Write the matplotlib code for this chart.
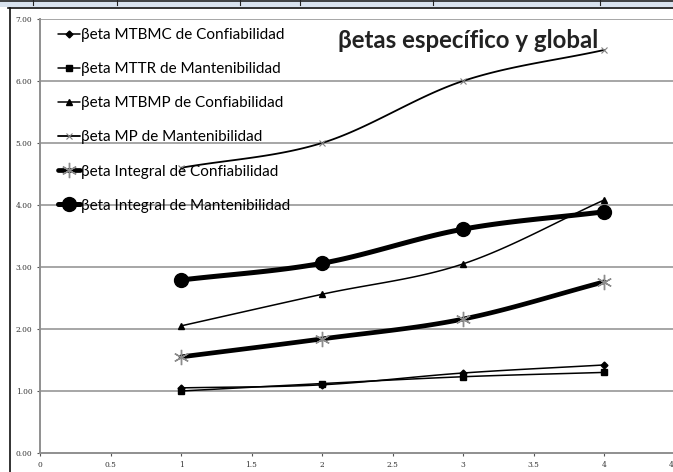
import numpy as np
import matplotlib
matplotlib.use("Agg")
import matplotlib.pyplot as plt
from matplotlib.patches import Rectangle
from matplotlib.lines import Line2D

# Data
periods = [1, 2, 3, 4]
beta_mtbmc_conf = [1.05, 1.10, 1.29, 1.42]
beta_mttr_mant = [1.00, 1.12, 1.23, 1.30]
beta_mtbmp_conf = [2.05, 2.56, 3.05, 4.08]
beta_mp_mant = [4.60, 5.00, 6.00, 6.50]
beta_integral_conf = [1.55, 1.84, 2.16, 2.76]
beta_integral_mant = [2.79, 3.06, 3.61, 3.89]

labels = [
    "βeta MTBMC de Confiabilidad",
    "βeta MTTR de Mantenibilidad",
    "βeta MTBMP de Confiabilidad",
    "βeta MP de Mantenibilidad",
    "βeta Integral de Confiabilidad",
    "βeta Integral de Mantenibilidad",
]
title = "βetas específico y global"
y_ticks = [0, 1, 2, 3, 4, 5, 6, 7]
x_ticks = [0, 0.5, 1, 1.5, 2, 2.5, 3, 3.5, 4, 4.5]

N_SEG = 40


def smooth(xs, ys, n=N_SEG):
    """Catmull-Rom curve through the points (spreadsheet-style smoothed line)."""
    p = np.column_stack([xs, ys]).astype(float)
    p = np.vstack([p[0] - (p[1] - p[0]), p, p[-1] + (p[-1] - p[-2])])
    out = []
    t = np.linspace(0, 1, n, endpoint=False)[:, None]
    for i in range(1, len(p) - 2):
        p0, p1, p2, p3 = p[i - 1], p[i], p[i + 1], p[i + 2]
        seg = 0.5 * ((2 * p1) + (-p0 + p2) * t + (2 * p0 - 5 * p1 + 4 * p2 - p3) * t ** 2
                     + (-p0 + 3 * p1 - 3 * p2 + p3) * t ** 3)
        out.append(seg)
    out.append(p[-2][None, :])
    c = np.vstack(out)
    return c[:, 0], c[:, 1]


W, H = 673, 472
fig = plt.figure(figsize=(W / 100, H / 100), dpi=100)

# window strip and chart border along the top/left
fig.add_artist(Rectangle((0, 1 - 7 / H), 1, 7 / H, transform=fig.transFigure,
                         facecolor="#d8e2ee", edgecolor="none"))
fig.add_artist(Line2D([0, 1], [1 - 1 / H, 1 - 1 / H], transform=fig.transFigure,
                      color="#222222", lw=1.2))
for xp in [33, 117, 240, 300, 433, 600]:
    fig.add_artist(Line2D([xp / W, xp / W], [1 - 5 / H, 1], transform=fig.transFigure,
                          color="#222222", lw=0.8))
fig.add_artist(Line2D([8 / W, 1], [1 - 8 / H, 1 - 8 / H], transform=fig.transFigure,
                      color="#111111", lw=1.2))
fig.add_artist(Line2D([9.5 / W, 9.5 / W], [0, 1 - 8 / H], transform=fig.transFigure,
                      color="#111111", lw=1.2))

ax = fig.add_axes([40 / W, 1 - 453 / H, (674.5 - 40) / W, (453 - 19) / H])
ax.set_xlim(0, 4.5)
ax.set_ylim(0, 7)

for v in y_ticks[1:]:
    ax.axhline(v, color="#a6a6a6", lw=1.4, zorder=1)

series = [
    (beta_mtbmc_conf, dict(lw=1.1, marker="D", ms=3.5, mfc="black", mec="black")),
    (beta_mttr_mant, dict(lw=1.1, marker="s", ms=4.5, mfc="black", mec="black")),
    (beta_mtbmp_conf, dict(lw=1.1, marker="^", ms=4.5, mfc="black", mec="black")),
    (beta_mp_mant, dict(lw=1.3, marker="x", ms=5, mew=0.8, mec="#808080")),
    (beta_integral_conf, dict(lw=3.4, marker=(6, 2, 0), ms=11, mew=1.0, mec="#8c8c8c")),
    (beta_integral_mant, dict(lw=3.6, marker="o", ms=10, mfc="black", mec="black")),
]

for (vals, style), lab in zip(series, labels):
    sx, sy = smooth(periods, vals)
    idx = [i * N_SEG for i in range(len(periods))]
    ax.plot(sx, sy, color="black", label=lab, markevery=idx, zorder=3,
            solid_capstyle="round", **style)

# axes styling
for s in ["top", "right"]:
    ax.spines[s].set_visible(False)
for s in ["left", "bottom"]:
    ax.spines[s].set_color("#8f8f8f")
    ax.spines[s].set_linewidth(1.4)
ax.set_yticks(y_ticks)
ax.set_yticklabels([f"{v:.2f}" for v in y_ticks])
ax.set_xticks(x_ticks)
ax.set_xticklabels([f"{v:g}" for v in x_ticks])
ax.tick_params(axis="both", length=2.5, width=0.8, color="#555555",
               labelsize=5.4, labelcolor="#333333", pad=3)
for t in ax.get_xticklabels() + ax.get_yticklabels():
    t.set_fontfamily("DejaVu Serif")

leg = ax.legend(loc="upper left", bbox_to_anchor=(18 / (674.5 - 40), 1 - 9 / 434),
                frameon=False, prop={"family": "Lato", "size": 11},
                labelspacing=1.32, handlelength=1.45, handletextpad=0.05,
                borderaxespad=0, borderpad=0)

# title placed in pixel coordinates of the figure
fig.text(338 / W, 1 - 48 / H, title, fontsize=17.3, fontweight="bold",
         family="Lato", color="#222222")

fig.savefig("out.png", dpi=100)
